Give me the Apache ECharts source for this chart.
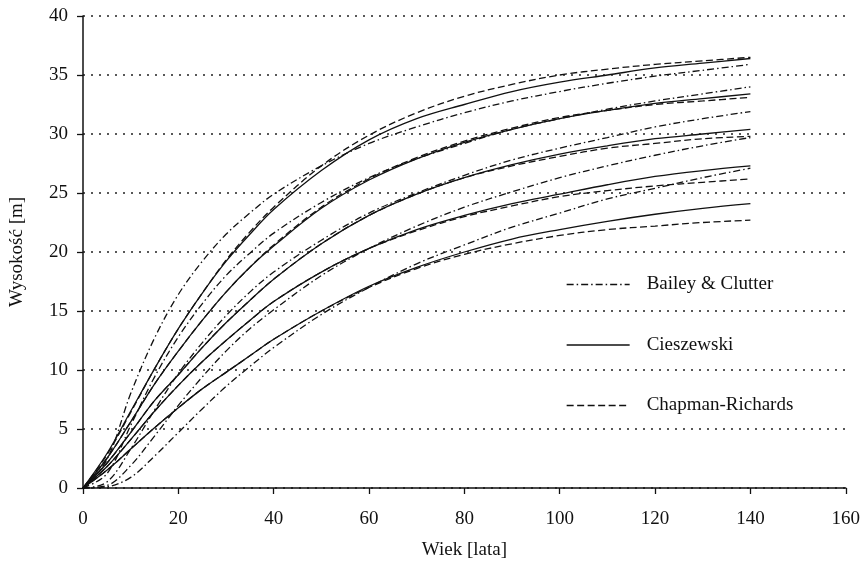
<!DOCTYPE html>
<html><head><meta charset="utf-8">
<script src="https://cdn.jsdelivr.net/npm/echarts@6/dist/echarts.min.js"></script>
<style>html,body{margin:0;padding:0;background:#fff}#c{width:863px;height:565px}</style>
</head><body><div id="c"></div>
<script>
const ages = [0,5,10,15,20,25,30,35,40,50,60,70,80,90,100,110,120,130,140];
// Bailey & Clutter
const bailey1 = [0,2.4,8.0,12.7,16.4,19.2,21.5,23.3,24.9,27.3,29.2,30.6,31.8,32.8,33.6,34.3,34.9,35.4,35.9];
const bailey2 = [0,1.2,5.3,9.4,12.8,15.6,18.0,19.9,21.6,24.2,26.3,27.9,29.2,30.4,31.3,32.1,32.8,33.4,34.0];
const bailey3 = [0,0.5,3.3,6.6,9.7,12.3,14.6,16.6,18.3,21.0,23.3,25.0,26.5,27.8,28.8,29.7,30.6,31.3,31.9];
const bailey4 = [0,0.2,1.9,4.4,7.0,9.4,11.6,13.5,15.1,18.0,20.3,22.2,23.8,25.1,26.3,27.3,28.2,29.0,29.7];
const bailey5 = [0,0.1,0.9,2.7,4.7,6.7,8.6,10.3,11.9,14.7,17.0,19.0,20.6,22.1,23.3,24.5,25.4,26.3,27.1];
// Cieszewski
const ciesz1 = [0,2.9,6.5,10.1,13.5,16.5,19.2,21.5,23.6,26.9,29.5,31.3,32.5,33.6,34.4,35.0,35.6,36.0,36.4];
const ciesz2 = [0,2.5,5.6,8.8,11.6,14.2,16.6,18.7,20.5,23.7,26.1,27.9,29.3,30.4,31.3,32.0,32.6,33.0,33.4];
const ciesz3 = [0,2.1,4.7,7.4,9.6,11.9,14.0,15.9,17.7,20.7,23.1,24.9,26.3,27.4,28.3,29.0,29.6,30.0,30.4];
const ciesz4 = [0,1.8,4.1,6.5,8.7,10.7,12.5,14.2,15.8,18.3,20.3,21.9,23.1,24.1,24.9,25.7,26.4,26.9,27.3];
const ciesz5 = [0,1.5,3.3,5.1,6.8,8.4,9.8,11.2,12.6,15.0,17.1,18.7,20.0,21.1,21.9,22.6,23.2,23.7,24.1];
// Chapman-Richards
const chap1 = [0,2.8,6.4,10.1,13.5,16.5,19.3,21.7,23.8,27.3,29.9,31.8,33.2,34.2,35.0,35.5,35.9,36.2,36.5];
const chap2 = [0,2.5,5.6,8.8,11.6,14.2,16.6,18.7,20.6,23.8,26.2,28.0,29.4,30.5,31.4,32.0,32.5,32.8,33.1];
const chap3 = [0,2.1,4.7,7.4,9.6,11.9,14.0,15.9,17.7,20.7,23.1,24.9,26.3,27.3,28.1,28.8,29.2,29.6,29.8];
const chap4 = [0,1.8,4.1,6.5,8.7,10.7,12.5,14.2,15.8,18.3,20.3,21.8,23.0,23.9,24.7,25.2,25.6,25.9,26.2];
const chap5 = [0,1.5,3.3,5.1,6.8,8.4,9.8,11.2,12.6,15.0,17.0,18.6,19.8,20.7,21.4,21.9,22.2,22.5,22.7];

const xTicks = [0,20,40,60,80,100,120,140,160];
const yTicks = [0,5,10,15,20,25,30,35,40];
const names = ['Bailey & Clutter','Cieszewski','Chapman-Richards'];

const FONT = '"Liberation Serif", "DejaVu Serif", serif';
const INK = '#111';
const dashes = {
  'Bailey & Clutter': [7,3,1.5,3],
  'Cieszewski': 'solid',
  'Chapman-Richards': [7,3.5]
};
const families = [
  ['Bailey & Clutter', [bailey1,bailey2,bailey3,bailey4,bailey5]],
  ['Cieszewski', [ciesz1,ciesz2,ciesz3,ciesz4,ciesz5]],
  ['Chapman-Richards', [chap1,chap2,chap3,chap4,chap5]]
];
const series = [];
families.forEach(([nm, arrs]) => {
  arrs.forEach(arr => {
    series.push({
      name: nm, type: 'line', smooth: 0.35, symbol: 'none', showSymbol: false, silent: true,
      lineStyle: {color: INK, width: 1.3, type: dashes[nm]},
      itemStyle: {color: INK},
      data: ages.map((a, i) => [a, arr[i]])
    });
  });
});

const chart = echarts.init(document.getElementById('c'), null, {renderer: 'canvas'});
chart.setOption({
  animation: false,
  backgroundColor: '#fff',
  grid: {left: 82, right: 17, top: 16, bottom: 74},
  legend: {
    show: true,
    data: names, orient: 'vertical', left: 561, top: 270,
    itemWidth: 63, itemHeight: 14, itemGap: 41.5,
    selectedMode: false,
    itemStyle: {color: 'rgba(0,0,0,0)', borderColor: 'rgba(0,0,0,0)', borderWidth: 0, opacity: 0},
    lineStyle: {color: INK, width: 1.3},
    textStyle: {fontFamily: FONT, fontSize: 19, color: INK, padding: [0,0,0,12]}
  },
  xAxis: {
    type: 'value', min: 0, max: 160, interval: 20,
    name: 'Wiek [lata]', nameLocation: 'middle', nameGap: 53,
    nameTextStyle: {fontFamily: FONT, fontSize: 19, color: INK},
    axisLine: {lineStyle: {color: INK, width: 1.5}},
    axisTick: {show: true, inside: false, length: 6, lineStyle: {color: INK, width: 1.3}},
    axisLabel: {fontFamily: FONT, fontSize: 19, color: INK, margin: 22,
      formatter: v => xTicks.includes(v) ? String(v) : ''},
    splitLine: {show: false}
  },
  yAxis: {
    type: 'value', min: 0, max: 40, interval: 5,
    name: 'Wysokość [m]', nameLocation: 'middle', nameGap: 56,
    nameTextStyle: {fontFamily: FONT, fontSize: 19, color: INK},
    axisLine: {show: true, lineStyle: {color: INK, width: 1.5}},
    axisTick: {show: true, inside: false, length: 6, lineStyle: {color: INK, width: 1.3}},
    axisLabel: {fontFamily: FONT, fontSize: 19, color: INK, margin: 15,
      formatter: v => yTicks.includes(v) ? String(v) : ''},
    splitLine: {show: true, lineStyle: {color: '#222', width: 1.6, type: [2, 6]}}
  },
  series: series
});
</script></body></html>
